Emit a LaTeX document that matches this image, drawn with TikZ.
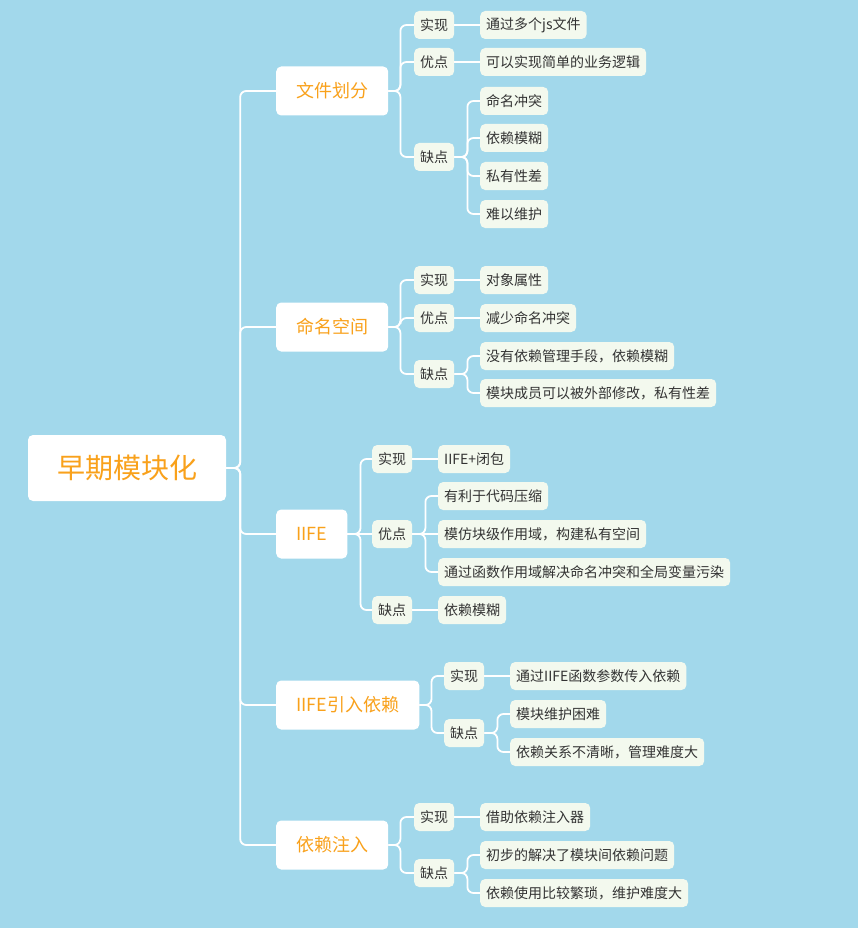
\documentclass[tikz,border=0pt]{standalone}
\usepackage{fontspec}
\setmainfont{Noto Sans CJK SC}
\usepackage{xcolor}
\usepackage{tikz}
\usetikzlibrary{positioning,calc}

\definecolor{bgblue}{HTML}{A2D8EB}
\definecolor{leaffill}{HTML}{F3F9EE}
\definecolor{topicorange}{HTML}{F9A11B}
\definecolor{leaftext}{HTML}{333333}

\begin{document}
\begin{tikzpicture}[
  x=1pt,y=-1pt,
  root/.style={fill=white,rounded corners=5pt,text=topicorange,minimum width=198pt,minimum height=66pt,font=\fontsize{28}{30}\selectfont},
  topic/.style={fill=white,rounded corners=5pt,text=topicorange,anchor=west,inner xsep=20pt,inner ysep=0pt,minimum height=49pt,font=\fontsize{18}{20}\selectfont},
  sub/.style={fill=leaffill,rounded corners=5pt,text=leaftext,anchor=west,inner xsep=6pt,inner ysep=0pt,minimum height=28pt,font=\fontsize{14}{16}\selectfont},
  link/.style={draw=white,line width=1.8pt,rounded corners=6pt}
]
\fill[bgblue] (0,0) rectangle (858,928);
\useasboundingbox (0,0) rectangle (858,928);

% root and first level
\node[root] (root) at (127,468) {早期模块化};
\node[topic] (file) at (276,91) {文件划分};
\node[topic] (ns) at (276,327) {命名空间};
\node[topic] (iife) at (276,534) {IIFE};
\node[topic] (dep) at (276,705) {IIFE引入依赖};
\node[topic] (di) at (276,845) {依赖注入};

\foreach \t in {file,ns,iife,dep,di}
  \draw[link] (root.east) -- ++(14,0) |- (\t.west);

% 文件划分
\node[sub] (file-impl) at (414,25) {实现};
\node[sub] (file-pro) at (414,62) {优点};
\node[sub] (file-con) at (414,157) {缺点};
\node[sub] (file-impl1) at (480,25) {通过多个js文件};
\node[sub] (file-pro1) at (480,62) {可以实现简单的业务逻辑};
\node[sub] (file-con1) at (480,101) {命名冲突};
\node[sub] (file-con2) at (480,138) {依赖模糊};
\node[sub] (file-con3) at (480,176) {私有性差};
\node[sub] (file-con4) at (480,214) {难以维护};
\foreach \s in {impl,pro,con}
  \draw[link] (file.east) -- ++(12,0) |- (file-\s.west);
\draw[link] (file-impl.east) -- (file-impl1.west);
\draw[link] (file-pro.east) -- (file-pro1.west);
\foreach \i in {1,...,4}
  \draw[link] (file-con.east) -- ++(13,0) |- (file-con\i.west);

% 命名空间
\node[sub] (ns-impl) at (414,280) {实现};
\node[sub] (ns-pro) at (414,318) {优点};
\node[sub] (ns-con) at (414,374) {缺点};
\node[sub] (ns-impl1) at (480,280) {对象属性};
\node[sub] (ns-pro1) at (480,318) {减少命名冲突};
\node[sub] (ns-con1) at (480,356) {没有依赖管理手段，依赖模糊};
\node[sub] (ns-con2) at (480,393) {模块成员可以被外部修改，私有性差};
\foreach \s in {impl,pro,con}
  \draw[link] (ns.east) -- ++(12,0) |- (ns-\s.west);
\draw[link] (ns-impl.east) -- (ns-impl1.west);
\draw[link] (ns-pro.east) -- (ns-pro1.west);
\foreach \i in {1,2}
  \draw[link] (ns-con.east) -- ++(13,0) |- (ns-con\i.west);

% IIFE
\node[sub] (iife-impl) at (372,459) {实现};
\node[sub] (iife-pro) at (372,534) {优点};
\node[sub] (iife-con) at (372,610) {缺点};
\node[sub] (iife-impl1) at (438,459) {IIFE+闭包};
\node[sub] (iife-pro1) at (438,496) {有利于代码压缩};
\node[sub] (iife-pro2) at (438,534) {模仿块级作用域，构建私有空间};
\node[sub] (iife-pro3) at (438,572) {通过函数作用域解决命名冲突和全局变量污染};
\node[sub] (iife-con1) at (438,610) {依赖模糊};
\draw[link] (iife.east) -- ++(13,0) |- (iife-impl.west);
\draw[link] (iife.east) -- (iife-pro.west);
\draw[link] (iife.east) -- ++(13,0) |- (iife-con.west);
\draw[link] (iife-impl.east) -- (iife-impl1.west);
\draw[link] (iife-pro.east) -- ++(13,0) |- (iife-pro1.west);
\draw[link] (iife-pro.east) -- (iife-pro2.west);
\draw[link] (iife-pro.east) -- ++(13,0) |- (iife-pro3.west);
\draw[link] (iife-con.east) -- (iife-con1.west);

% IIFE引入依赖
\node[sub] (dep-impl) at (444,676) {实现};
\node[sub] (dep-con) at (444,733) {缺点};
\node[sub] (dep-impl1) at (510,676) {通过IIFE函数参数传入依赖};
\node[sub] (dep-con1) at (510,714) {模块维护困难};
\node[sub] (dep-con2) at (510,752) {依赖关系不清晰，管理难度大};
\foreach \s in {impl,con}
  \draw[link] (dep.east) -- ++(12,0) |- (dep-\s.west);
\draw[link] (dep-impl.east) -- (dep-impl1.west);
\foreach \i in {1,2}
  \draw[link] (dep-con.east) -- ++(13,0) |- (dep-con\i.west);

% 依赖注入
\node[sub] (di-impl) at (414,817) {实现};
\node[sub] (di-con) at (414,873) {缺点};
\node[sub] (di-impl1) at (480,817) {借助依赖注入器};
\node[sub] (di-con1) at (480,855) {初步的解决了模块间依赖问题};
\node[sub] (di-con2) at (480,893) {依赖使用比较繁琐，维护难度大};
\foreach \s in {impl,con}
  \draw[link] (di.east) -- ++(12,0) |- (di-\s.west);
\draw[link] (di-impl.east) -- (di-impl1.west);
\foreach \i in {1,2}
  \draw[link] (di-con.east) -- ++(13,0) |- (di-con\i.west);
\end{tikzpicture}
\end{document}
